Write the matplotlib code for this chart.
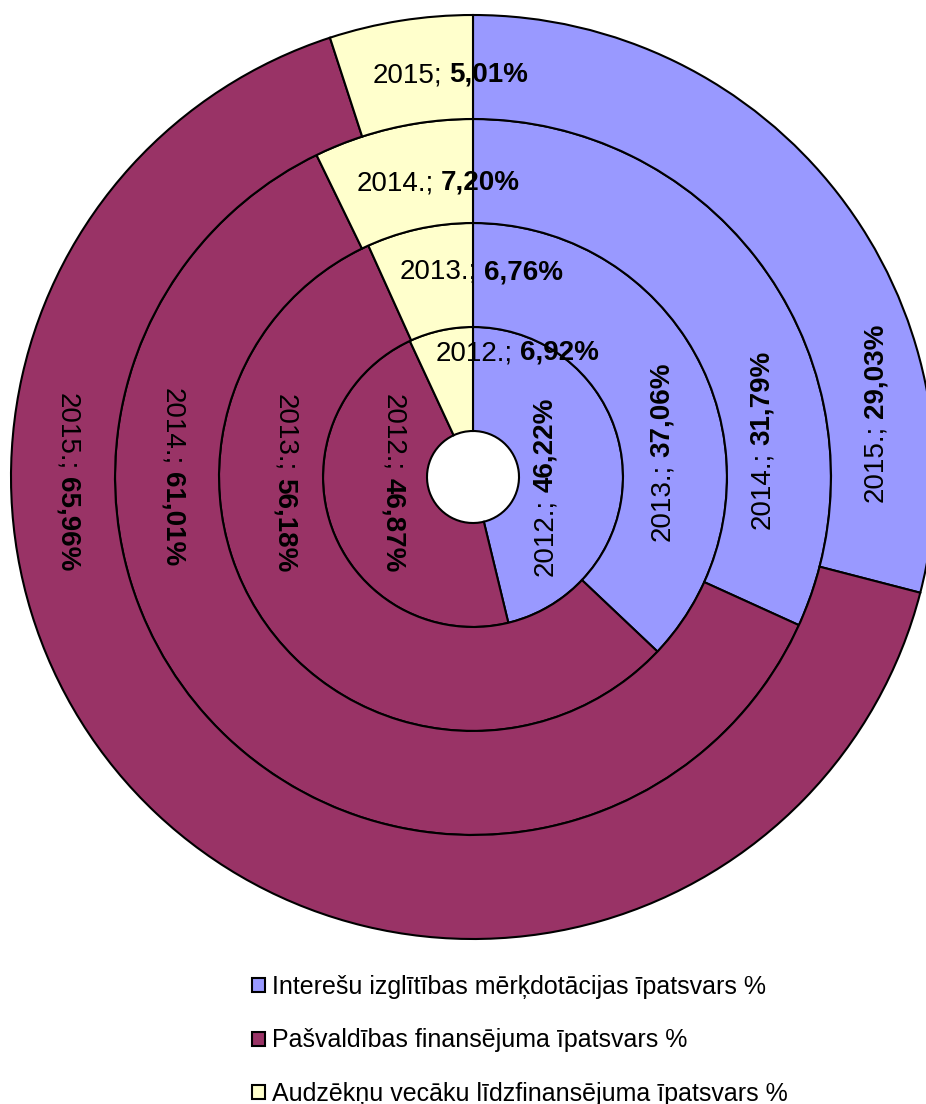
import numpy as np
import matplotlib
matplotlib.use("Agg")
import matplotlib.pyplot as plt
from matplotlib.patches import Patch

# data
years = ["2012.", "2013.", "2014.", "2015."]
yellow_years = ["2012.", "2013.", "2014.", "2015"]
interesu = [46.22, 37.06, 31.79, 29.03]
pasvaldibas = [46.87, 56.18, 61.01, 65.96]
audzeknu = [6.92, 6.76, 7.20, 5.01]
series_names = [
    "Interešu izglītības mērķdotācijas īpatsvars %",
    "Pašvaldības finansējuma īpatsvars %",
    "Audzēkņu vecāku līdzfinansējuma īpatsvars %",
]
colors = ["#9999FF", "#993366", "#FFFFCC"]

FONT = "Liberation Sans"
W, H = 926, 1104
cx, cy = 473, H - 477
hole = 46
ring_w = 104

fig = plt.figure(figsize=(W / 100, H / 100), dpi=100)
ax = fig.add_axes([0, 0, 1, 1])

for i in range(len(years)):
    vals = [interesu[i], pasvaldibas[i], audzeknu[i]]
    ax.pie(vals, radius=hole + ring_w * (i + 1), center=(cx, cy),
           startangle=90, counterclock=False, colors=colors, frame=True,
           wedgeprops=dict(width=ring_w, edgecolor="black", linewidth=1.5))

ax.set_xlim(0, W)
ax.set_ylim(0, H)
ax.axis("off")

# label positions (pixels from top-left) and rotation per series
label_pos = [
    [(545, 487), (662, 452), (762, 440), (875, 413)],
    [(393, 483), (285, 483), (172, 477), (67, 482)],
    [(517, 353), (481, 272), (438, 183), (450, 75)],
]
label_rot = [90, -90, 0]
gap = 7

renderer = fig.canvas.get_renderer()


def place_label(x, y, rot, head, value):
    t1 = ax.text(0, 0, head, fontsize=20, family=FONT)
    t2 = ax.text(0, 0, value, fontsize=20, family=FONT, weight="bold")
    w1 = t1.get_window_extent(renderer).width
    w2 = t2.get_window_extent(renderer).width
    total = w1 + gap + w2
    ux, uy = np.cos(np.radians(rot)), np.sin(np.radians(rot))
    X, Y = x, H - y
    p1 = (X - ux * (total / 2 - w1 / 2), Y - uy * (total / 2 - w1 / 2))
    p2 = (X + ux * (total / 2 - w2 / 2), Y + uy * (total / 2 - w2 / 2))
    for t, p in ((t1, p1), (t2, p2)):
        t.set_position(p)
        t.set_rotation(rot)
        t.set_rotation_mode("anchor")
        t.set_ha("center")
        t.set_va("center")


all_vals = [interesu, pasvaldibas, audzeknu]
for s in range(3):
    for i in range(len(years)):
        yr = yellow_years[i] if s == 2 else years[i]
        val = f"{all_vals[s][i]:.2f}".replace(".", ",") + "%"
        x, y = label_pos[s][i]
        place_label(x, y, label_rot[s], yr + ";", val)

handles = [Patch(facecolor=c, edgecolor="black", linewidth=1.5) for c in colors]
fig.legend(handles, series_names, loc="upper left",
           bbox_to_anchor=(252 / W, 1 - 975 / H), frameon=False,
           prop={"family": FONT, "size": 18},
           handlelength=0.5, handleheight=0.5, handletextpad=0.3,
           labelspacing=1.18, borderpad=0, borderaxespad=0)

fig.savefig("out.png", dpi=100)
